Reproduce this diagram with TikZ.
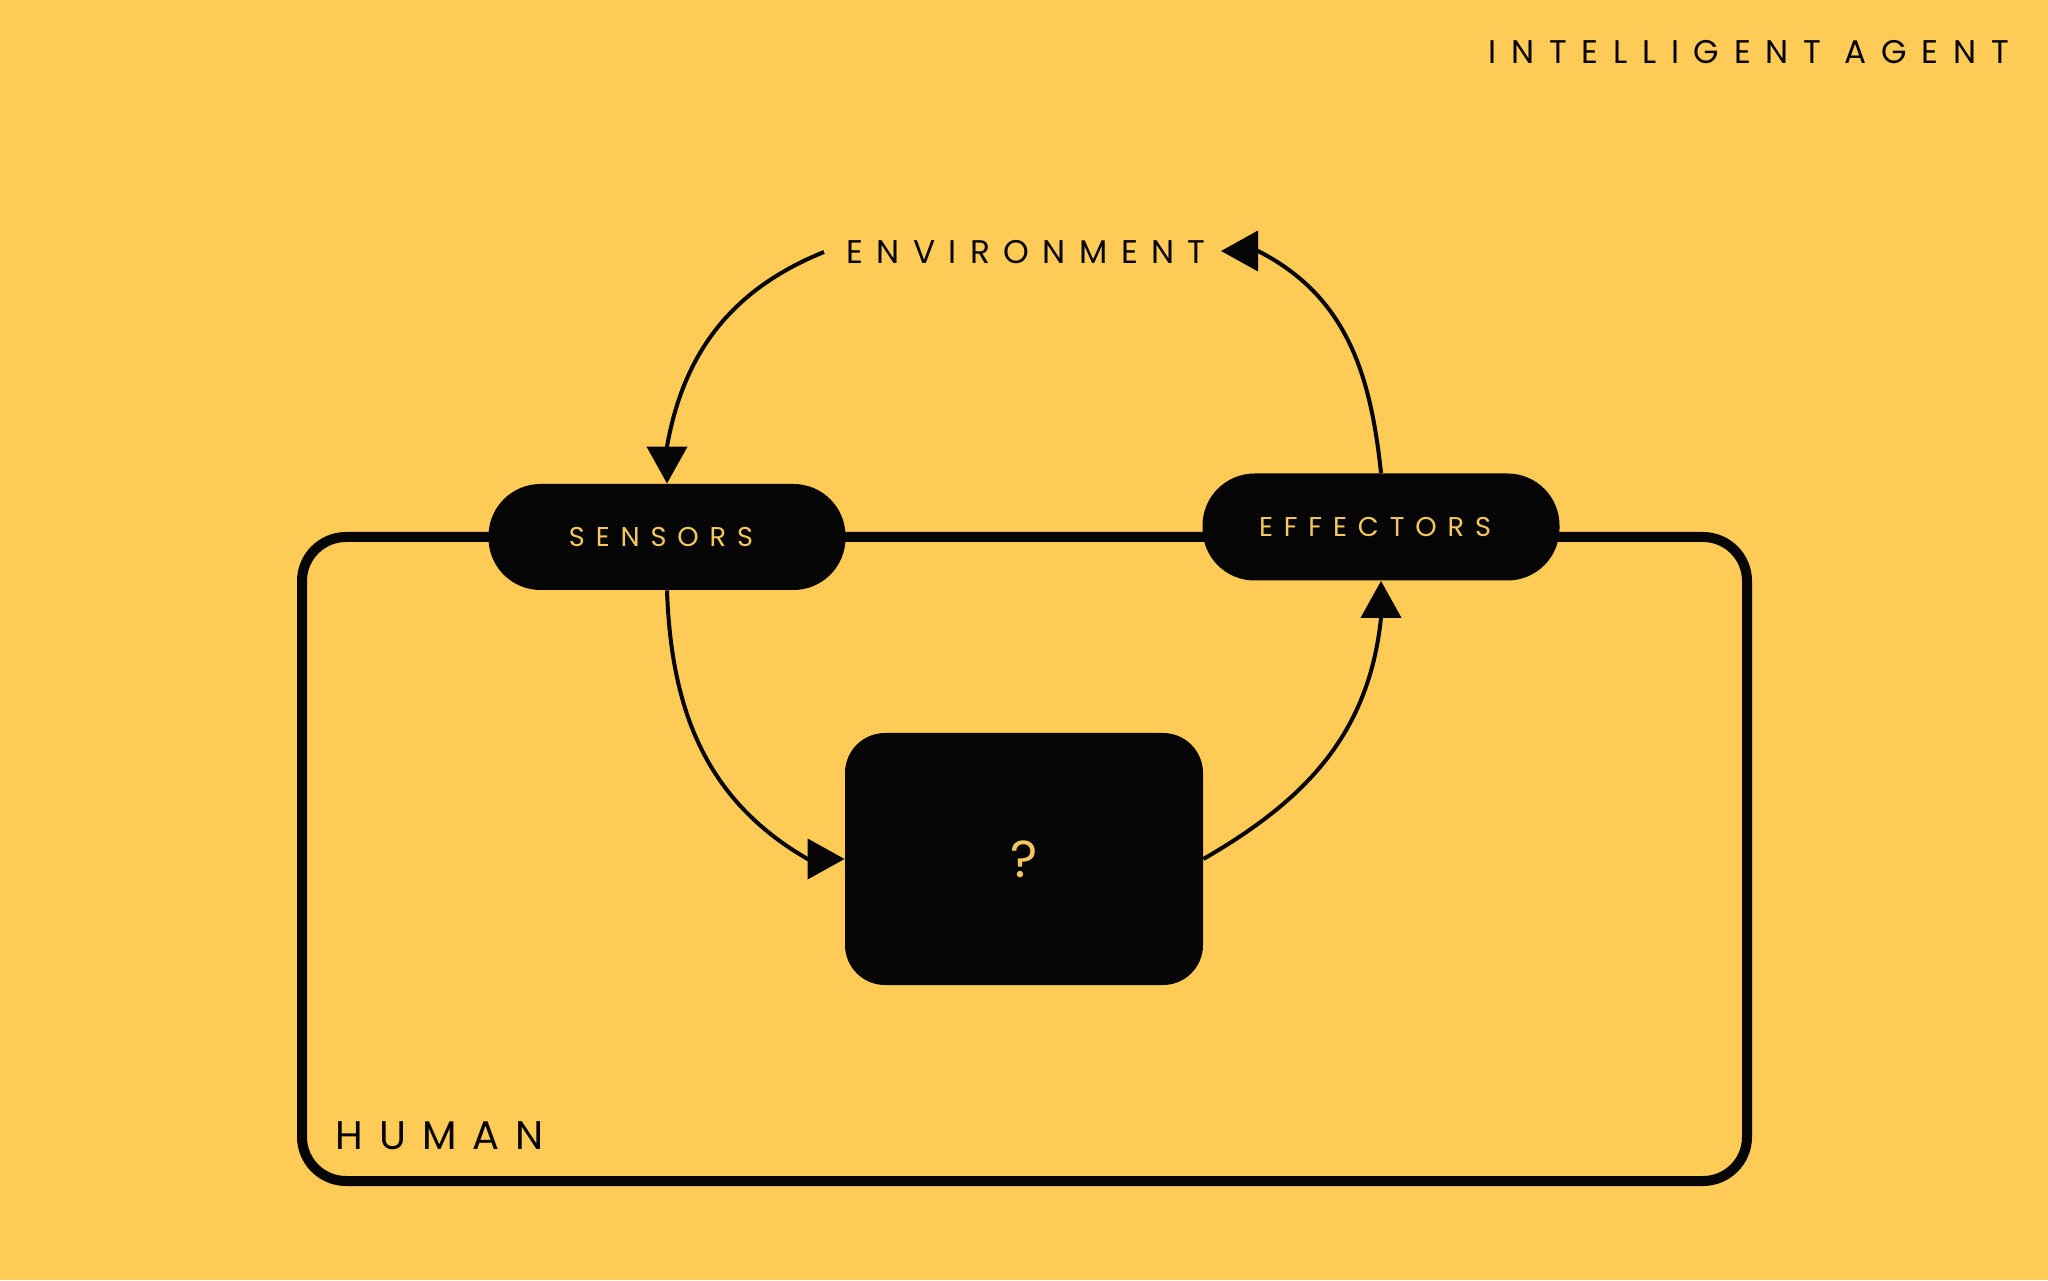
\documentclass[tikz,border=0pt]{standalone}
\usepackage{fontspec}
\setmainfont{Poppins}
\newfontfamily\spaced[LetterSpace=40]{Poppins}
\newfontfamily\spacedw[LetterSpace=45]{Poppins}
\newfontfamily\spacedm[LetterSpace=41]{Poppins}
\usetikzlibrary{arrows.meta}
\definecolor{bg}{RGB}{254,203,86}
\definecolor{gold}{RGB}{246,200,92}
\definecolor{ink}{RGB}{5,5,5}
\begin{document}
\begin{tikzpicture}[x=0.5pt,y=0.5pt,
  lbl/.style={text=ink, inner sep=0pt, anchor=west},
  pill/.style={fill=ink, rounded corners=26pt, minimum width=178.5pt, minimum height=53pt, inner sep=0pt, text=gold, font={\spaced\fontsize{13.6}{16}\selectfont}},
  flow/.style={draw=ink, line width=2pt, -{Triangle[width=20pt,length=18.5pt]}},
  frame/.style={draw=ink, line width=5pt, rounded corners=22pt}
]
\fill[bg] (0,0) rectangle (2048,1280);
\useasboundingbox (0,0) rectangle (2048,1280);
% human frame
\draw[frame] (302,743) rectangle (1747,99);
% nodes
\node[pill] (sensors) at (667,743) {SENSORS\hspace*{6pt}};
\node[pill, minimum height=53.5pt] (effectors) at (1381,753) {EFFECTORS\hspace*{6pt}};
\node[fill=ink, rounded corners=20pt, minimum width=179pt, minimum height=126pt, inner sep=0pt, text=gold, font={\fontsize{26}{30}\selectfont}] (qbox) at (1024,421) {?};
\node[lbl, font={\spacedw\fontsize{16.4}{20}\selectfont}] (title) at (1488,1228) {INTELLIGENT AGENT};
\node[lbl, font={\spacedm\fontsize{16.4}{20}\selectfont}] (env) at (846,1028) {ENVIRONMENT};
\node[lbl, font={\spaced\fontsize{20}{24}\selectfont}] (human) at (335,144) {HUMAN};
\coordinate (envL) at (824,1028);
\coordinate (envR) at (1221,1029);
% connectors
\draw[flow] (envL) to[out=202,in=80] ([yshift=18.5pt]sensors.north) -- (sensors.north);
\draw[flow] (effectors.north) to[out=96,in=333] ([xshift=18.5pt]envR) -- (envR);
\draw[flow] (sensors.south) to[out=272,in=150] ([xshift=-18.5pt]qbox.west) -- (qbox.west);
\draw[flow] (qbox.east) to[out=30,in=264] ([yshift=-18.5pt]effectors.south) -- (effectors.south);
\end{tikzpicture}
\end{document}
